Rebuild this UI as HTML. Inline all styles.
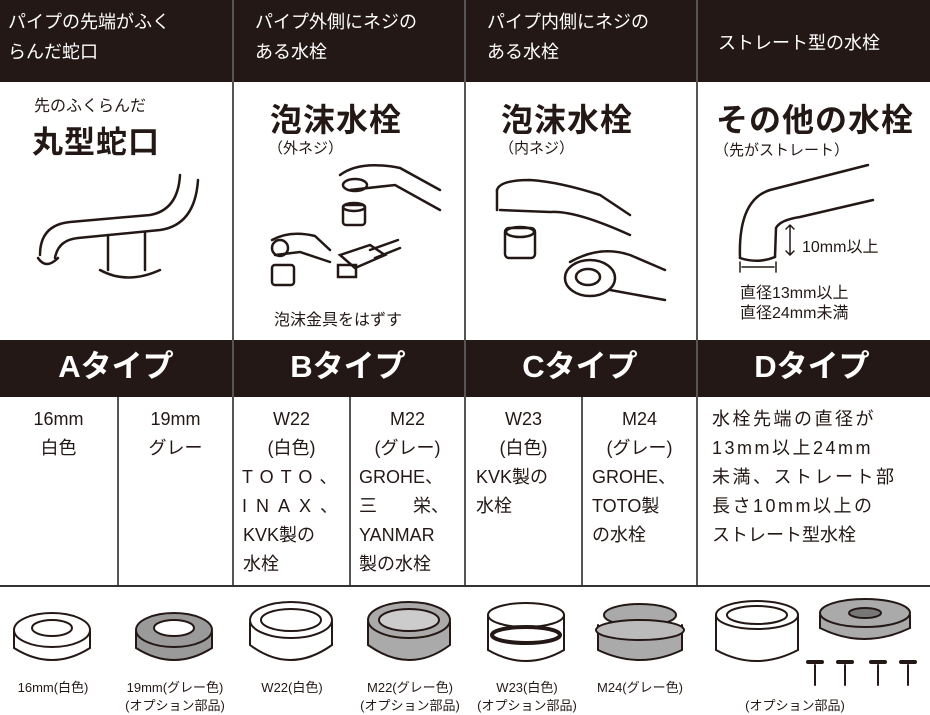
<!DOCTYPE html>
<html><head><meta charset="utf-8">
<style>
body{margin:0;width:930px;height:710px;background:#fff;position:relative;overflow:hidden;font-family:"Liberation Sans","Noto Sans CJK JP",sans-serif;color:#231815}
.a{position:absolute}
.dk{background:#231815}
.h{color:#fff;font-size:18px;line-height:30px}
.t{font-size:18px;line-height:29px;text-align:center}
.big{font-weight:bold;font-size:32px;letter-spacing:1px}
.sub{font-size:15px}
.ty{color:#fff;font-weight:bold;font-size:31px;text-align:center;width:232px;top:344px;line-height:46px}
.lb{font-size:13px;text-align:center;line-height:18px}
.l{display:block;text-align:left}
</style></head><body>
<div class="a dk" style="left:0;top:0;width:930px;height:82px"></div>
<div class="a dk" style="left:0;top:340px;width:930px;height:57px"></div>
<div class="a" style="left:232px;top:0;width:2px;height:587px;background:#555"></div>
<div class="a" style="left:464px;top:0;width:2px;height:587px;background:#555"></div>
<div class="a" style="left:696px;top:0;width:2px;height:587px;background:#555"></div>
<div class="a" style="left:117px;top:397px;width:1.5px;height:190px;background:#555"></div>
<div class="a" style="left:349px;top:397px;width:1.5px;height:190px;background:#555"></div>
<div class="a" style="left:581px;top:397px;width:1.5px;height:190px;background:#555"></div>
<div class="a" style="left:0;top:585px;width:930px;height:2px;background:#333"></div>
<div class="a h" style="left:8px;top:7px">パイプの先端がふく<br>らんだ蛇口</div>
<div class="a h" style="left:255px;top:7px">パイプ外側にネジの<br>ある水栓</div>
<div class="a h" style="left:487px;top:7px">パイプ内側にネジの<br>ある水栓</div>
<div class="a h" style="left:718px;top:28px">ストレート型の水栓</div>
<div class="a" style="left:34px;top:92px;font-size:16px">先のふくらんだ</div>
<div class="a big" style="left:32px;top:117px;font-size:31px">丸型蛇口</div>
<div class="a big" style="left:270px;top:95px">泡沫水栓</div>
<div class="a sub" style="left:268px;top:137px">（外ネジ）</div>
<div class="a big" style="left:501px;top:95px">泡沫水栓</div>
<div class="a sub" style="left:499px;top:137px">（内ネジ）</div>
<div class="a big" style="left:716px;top:95px;font-size:32px">その他の水栓</div>
<div class="a sub" style="left:714px;top:139px">（先がストレート）</div>
<div class="a" style="left:802px;top:233px;font-size:16px">10mm以上</div>
<div class="a" style="left:740px;top:284px;font-size:16px;line-height:20px">直径13mm以上<br>直径24mm未満</div>
<div class="a" style="left:274px;top:306px;font-size:16px">泡沫金具をはずす</div>
<svg class="a" style="left:0;top:0" width="930" height="710" fill="none" stroke="#231815" stroke-width="2.5" stroke-linecap="round">
<path d="M40 255 Q40 225 70 222 L150 215 Q178 210 180 175"/>
<path d="M55 258 Q58 240 78 238 L160 230 Q195 225 198 180"/>
<path d="M38 258 Q46 270 58 258"/>
<path d="M108 235 L108 270 M145 232 L145 270"/>
<path d="M100 270 Q127 285 160 270"/>
<path d="M340 175 Q360 160 400 168 L440 190 M350 190 L395 185 L440 210"/><ellipse cx="355" cy="185" rx="12" ry="6"/>
<rect x="343" y="205" width="22" height="20" rx="3"/><ellipse cx="354" cy="207" rx="11" ry="4"/>
<path d="M272 240 Q290 230 315 236 L330 250 M275 255 L300 252 L330 262"/><ellipse cx="280" cy="248" rx="8" ry="8"/>
<rect x="272" y="265" width="22" height="20" rx="3"/>
<path d="M340 255 L370 245 L385 255 L355 268 Z M370 250 L398 240 M375 258 L400 248"/>
<rect x="338" y="265" width="18" height="12"/>
<path d="M497 190 Q500 180 530 180 Q560 182 600 195 L630 215 M500 210 L550 212 Q575 210 630 235"/>
<path d="M497 190 L497 210"/>
<rect x="505" y="228" width="30" height="30" rx="4"/><ellipse cx="520" cy="232" rx="14" ry="5"/>
<ellipse cx="590" cy="278" rx="25" ry="18"/><ellipse cx="588" cy="277" rx="12" ry="8"/>
<path d="M570 262 Q600 245 630 255 L665 270 M610 290 L665 300"/>
<path d="M740 258 Q738 200 770 190 L868 165"/>
<path d="M775 257 L776 228 Q780 220 800 217 L873 200"/>
<path d="M740 258 Q758 264 775 257"/>
<path d="M790 225 L790 255 M786 229 L790 225 L794 229 M786 251 L790 255 L794 251" stroke-width="1.5"/>
<path d="M740 262 L740 272 M776 262 L776 272 M742 267 L774 267" stroke-width="1.5"/>
<g stroke-width="2">
<ellipse cx="52" cy="630" rx="38" ry="17"/><ellipse cx="52" cy="628" rx="20" ry="8"/><path d="M14 632 L14 648 Q52 672 90 648 L90 632"/>
<path d="M136 632 L136 648 Q174 672 212 648 L212 632" fill="#9a9a9a"/><ellipse cx="174" cy="630" rx="38" ry="17" fill="#9a9a9a"/><ellipse cx="174" cy="628" rx="20" ry="8" fill="#fff"/>
<path d="M250 622 L250 645 Q290 675 332 645 L332 622"/><ellipse cx="291" cy="620" rx="41" ry="18" fill="#fff"/><ellipse cx="291" cy="620" rx="30" ry="11"/>
<path d="M368 622 L368 645 Q410 675 450 645 L450 622" fill="#aaa"/><ellipse cx="409" cy="620" rx="41" ry="18" fill="#aaa"/><ellipse cx="409" cy="620" rx="30" ry="11" fill="#ccc"/>
<path d="M488 615 L488 650 Q526 672 564 650 L564 615"/><ellipse cx="526" cy="615" rx="38" ry="12" fill="#fff"/><ellipse cx="526" cy="635" rx="34" ry="8" stroke-width="4"/>
<path d="M598 625 L598 650 Q640 670 682 650 L682 625" fill="#aaa"/><ellipse cx="640" cy="615" rx="36" ry="11" fill="#aaa"/><ellipse cx="640" cy="630" rx="44" ry="10" fill="#bbb"/>
<path d="M716 615 L716 650 Q756 672 798 650 L798 615"/><ellipse cx="757" cy="615" rx="41" ry="14" fill="#fff"/><ellipse cx="757" cy="615" rx="30" ry="9"/>
<path d="M820 615 L820 628 Q864 650 910 628 L910 615" fill="#aaa"/><ellipse cx="865" cy="613" rx="45" ry="14" fill="#aaa"/><ellipse cx="865" cy="613" rx="16" ry="5" fill="#777"/>
<path d="M815 665 L815 685 M845 665 L845 685 M878 665 L878 685 M908 665 L908 685"/>
<path d="M808 662 L822 662 M838 662 L852 662 M871 662 L885 662 M901 662 L915 662" stroke-width="4"/>
</g>
</svg>
<div class="a ty" style="left:0">Aタイプ</div>
<div class="a ty" style="left:232px">Bタイプ</div>
<div class="a ty" style="left:464px">Cタイプ</div>
<div class="a ty" style="left:696px">Dタイプ</div>
<div class="a t" style="left:0;top:405px;width:117px">16mm<br>白色</div>
<div class="a t" style="left:118px;top:405px;width:115px">19mm<br>グレー</div>
<div class="a t" style="left:234px;top:405px;width:115px">W22<br>(白色)<br><span class="l" style="padding-left:8px;letter-spacing:7px">TOTO、</span><span class="l" style="padding-left:8px;letter-spacing:9px">INAX、</span><span class="l" style="padding-left:9px">KVK製の</span><span class="l" style="padding-left:9px">水栓</span></div>
<div class="a t" style="left:350px;top:405px;width:115px">M22<br>(グレー)<br><span class="l" style="padding-left:9px">GROHE、</span><span class="l" style="padding-left:9px">三　　栄、</span><span class="l" style="padding-left:9px">YANMAR</span><span class="l" style="padding-left:9px">製の水栓</span></div>
<div class="a t" style="left:466px;top:405px;width:115px">W23<br>(白色)<br><span class="l" style="padding-left:10px">KVK製の</span><span class="l" style="padding-left:10px">水栓</span></div>
<div class="a t" style="left:582px;top:405px;width:115px">M24<br>(グレー)<br><span class="l" style="padding-left:10px">GROHE、</span><span class="l" style="padding-left:10px">TOTO製</span><span class="l" style="padding-left:10px">の水栓</span></div>
<div class="a t" style="left:712px;top:405px;width:205px;text-align:left;letter-spacing:2.5px">水栓先端の直径が<br>13mm以上24mm<br>未満、ストレート部<br>長さ10mm以上の<br><span style="letter-spacing:0">ストレート型水栓</span></div>
<div class="a lb" style="left:0;top:679px;width:106px">16mm(白色)</div>
<div class="a lb" style="left:110px;top:679px;width:130px">19mm(グレー色)<br>(オプション部品)</div>
<div class="a lb" style="left:240px;top:679px;width:104px">W22(白色)</div>
<div class="a lb" style="left:345px;top:679px;width:130px">M22(グレー色)<br>(オプション部品)</div>
<div class="a lb" style="left:462px;top:679px;width:130px">W23(白色)<br>(オプション部品)</div>
<div class="a lb" style="left:580px;top:679px;width:120px">M24(グレー色)</div>
<div class="a lb" style="left:730px;top:697px;width:130px">(オプション部品)</div>
</body></html>
